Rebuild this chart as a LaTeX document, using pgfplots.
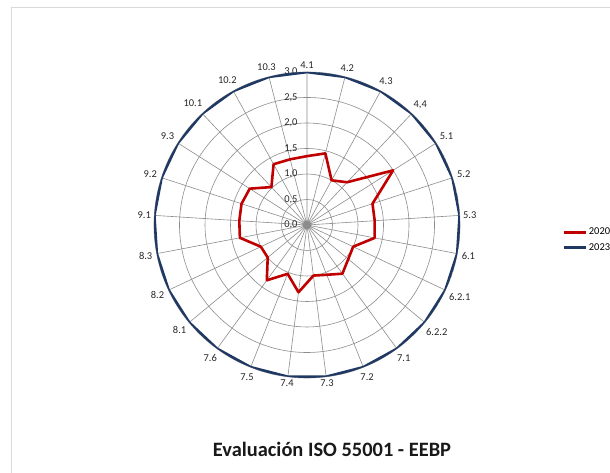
\documentclass[border=0pt]{standalone}
\usepackage{pgfplots}
\pgfplotsset{compat=1.18}
\usepgfplotslibrary{polar}
\usepackage{pgfplotstable}
\usepackage{fontspec}
\setmainfont{Carlito}
\definecolor{red20}{HTML}{C00000}
\definecolor{blue23}{HTML}{203864}
\definecolor{gridgray}{HTML}{8C8C8C}
\definecolor{framegray}{HTML}{D9D9D9}

% angle (polar, counter-clockwise, 4.1 at top, Excel order clockwise), 2020, 2023
\pgfplotstableread{
ang r2020 r2023
450 1.35 3.0
435.6 1.45 3.0
421.2 1.00 3.0
406.8 1.15 3.0
392.4 2.00 3.0
378 1.35 3.0
363.6 1.33 3.0
349.2 1.35 3.0
334.8 1.00 3.0
320.4 1.05 3.0
306 1.18 3.0
291.6 1.05 3.0
277.2 1.00 3.0
262.8 1.33 3.0
248.4 1.03 3.0
234 1.34 3.0
219.6 1.00 3.0
205.2 1.00 3.0
190.8 1.34 3.0
176.4 1.33 3.0
162 1.35 3.0
147.6 1.33 3.0
133.2 1.02 3.0
118.8 1.36 3.0
104.4 1.33 3.0
90 1.35 3.0
}\radardata

\begin{document}
\begin{tikzpicture}[x=1bp,y=1bp]
\path[use as bounding box] (0,0) rectangle (610,473);
\draw[framegray, line width=0.75bp] (11,-5) -- (11,466) -- (620,466);
\begin{polaraxis}[
  at={(307bp,248bp)}, anchor=center,
  scale only axis, width=306bp, height=306bp,
  xmin=90, xmax=450, ymin=0, ymax=3,
  xtick={90,104.4,118.8,133.2,147.6,162,176.4,190.8,205.2,219.6,234,248.4,262.8,277.2,291.6,306,320.4,334.8,349.2,363.6,378,392.4,406.8,421.2,435.6},
  xticklabels={4.1,10.3,10.2,10.1,9.3,9.2,9.1,8.3,8.2,8.1,7.6,7.5,7.4,7.3,7.2,7.1,6.2.2,6.2.1,6.1,5.3,5.2,5.1,{4,4},4.3,4.2},
  ytick={0,0.5,1,1.5,2,2.5,3},
  yticklabels={{0,0},{0,5},{1,0},{1,5},{2,0},{2,5},{3,0}},
  yticklabel style={anchor=east, xshift=-6bp},
  ticklabel style={font=\fontsize{10.5}{12}\selectfont, text=black!85},
  xmajorgrids, ymajorgrids,
  grid style={gridgray, line width=0.6bp},
  major tick length=0pt,
  axis line style={draw=none},
  legend style={at={(1.333,0.451)}, anchor=west, draw=none, fill=none,
    font=\fontsize{10.5}{12}\selectfont, row sep=3bp, inner sep=0pt},
  legend cell align=left,
  legend image code/.code={\draw[#1] (0bp,0bp) -- (22bp,0bp);},
]
\addplot[red20, line width=2.6bp, line join=round] table[x=ang, y=r2020] {\radardata};
\addlegendentry{2020}
\addplot[blue23, line width=2.8bp, line join=round] table[x=ang, y=r2023] {\radardata};
\addlegendentry{2023}
\end{polaraxis}
\node[anchor=base, font=\bfseries\fontsize{20.5}{22}\selectfont, text=black!90] at (332,16) {Evaluación ISO 55001 - EEBP};
\end{tikzpicture}
\end{document}
